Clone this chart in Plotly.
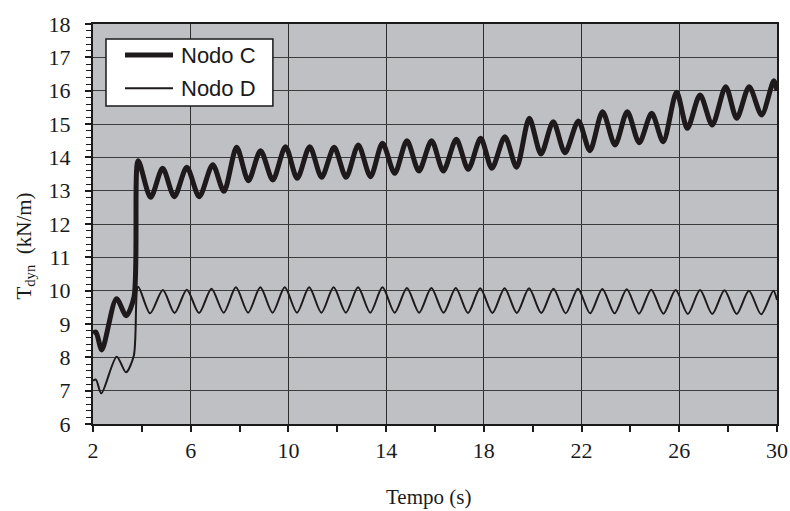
import plotly.graph_objects as go

# Nodo C: times (s) and T_dyn (kN/m) read at extremes of the oscillation
t_c = [2.0, 2.12, 2.36, 2.96, 3.36, 3.68, 3.85, 4.36, 4.85, 5.33, 5.84, 6.35, 6.9, 7.36, 7.88,
       8.36, 8.86, 9.36, 9.88, 10.36, 10.87, 11.36, 11.87, 12.36, 12.86, 13.36, 13.85, 14.35,
       14.85, 15.34, 15.86, 16.34, 16.87, 17.36, 17.87, 18.33, 18.86, 19.34, 19.86, 20.34,
       20.84, 21.32, 21.87, 22.34, 22.86, 23.37, 23.87, 24.36, 24.87, 25.34, 25.89, 26.33,
       26.85, 27.35, 27.9, 28.35, 28.86, 29.37, 29.87, 30.0]
v_c = [8.72, 8.76, 8.22, 9.76, 9.25, 9.82, 13.9, 12.8, 13.67, 12.82, 13.7, 12.82, 13.78, 12.98, 14.3,
       13.3, 14.2, 13.32, 14.32, 13.37, 14.32, 13.4, 14.3, 13.4, 14.37, 13.42, 14.42, 13.52,
       14.5, 13.59, 14.5, 13.59, 14.54, 13.64, 14.57, 13.67, 14.62, 13.7, 15.17, 14.1,
       15.07, 14.14, 15.09, 14.2, 15.37, 14.37, 15.37, 14.44, 15.32, 14.47, 15.95, 14.87,
       15.87, 14.97, 16.12, 15.17, 16.12, 15.27, 16.3, 16.0]

# Nodo D
t_d = [2.0, 2.12, 2.34, 2.97, 3.35, 3.67, 3.85, 4.34, 4.86, 5.34, 5.84, 6.34, 6.85, 7.35, 7.85,
       8.35, 8.85, 9.35, 9.85, 10.35, 10.85, 11.35, 11.85, 12.35, 12.85, 13.35, 13.85, 14.35,
       14.85, 15.35, 15.85, 16.35, 16.85, 17.35, 17.85, 18.35, 18.85, 19.35, 19.85, 20.35,
       20.85, 21.35, 21.85, 22.35, 22.85, 23.35, 23.85, 24.35, 24.85, 25.35, 25.85, 26.35,
       26.85, 27.35, 27.85, 28.35, 28.85, 29.35, 29.85, 30.0]
v_d = [7.3, 7.33, 6.92, 8.02, 7.55, 8.05, 10.12, 9.32, 10.02, 9.33, 10.03, 9.33, 10.06, 9.34, 10.1,
       9.34, 10.1, 9.34, 10.1, 9.34, 10.1, 9.34, 10.1, 9.34, 10.1, 9.34, 10.1, 9.34,
       10.08, 9.34, 10.08, 9.34, 10.08, 9.33, 10.07, 9.33, 10.07, 9.33, 10.07, 9.33,
       10.06, 9.32, 10.06, 9.32, 10.05, 9.32, 10.04, 9.31, 10.03, 9.31, 10.02, 9.3,
       10.02, 9.3, 10.01, 9.3, 10.0, 9.29, 10.0, 9.72]

series_names = ["Nodo C", "Nodo D"]
x_ticks = [2, 6, 10, 14, 18, 22, 26, 30]
x_minor = [4, 8, 12, 16, 20, 24, 28]
y_ticks = list(range(6, 19))

line_col = "#1e1a1b"
serif = "Liberation Serif, Times New Roman, serif"
sans = "Liberation Sans, Arial, sans-serif"

fig = go.Figure()
fig.add_trace(go.Scatter(x=t_c, y=v_c, mode="lines", name=series_names[0],
                         line=dict(color=line_col, width=5, shape="spline", smoothing=0.8)))
fig.add_trace(go.Scatter(x=t_d, y=v_d, mode="lines", name=series_names[1],
                         line=dict(color=line_col, width=2, shape="spline", smoothing=0.8)))

# legend drawn as a box with line samples and text (paper coordinates)
shapes = [
    dict(type="rect", xref="paper", yref="paper", x0=0.019, x1=0.263, y0=0.795, y1=0.9625,
         fillcolor="white", line=dict(color="#1a1a1a", width=1.5), layer="above"),
    dict(type="line", xref="paper", yref="paper", x0=0.0468, x1=0.117, y0=0.9225, y1=0.9225,
         line=dict(color=line_col, width=5), layer="above"),
    dict(type="line", xref="paper", yref="paper", x0=0.0468, x1=0.117, y0=0.8393, y1=0.8393,
         line=dict(color=line_col, width=2), layer="above"),
]
annotations = [
    dict(text=series_names[0], xref="paper", yref="paper", x=0.1257, y=0.9225,
         xanchor="left", yanchor="middle", showarrow=False,
         font=dict(family=sans, size=22, color="#1a1a1a")),
    dict(text=series_names[1], xref="paper", yref="paper", x=0.1257, y=0.8393,
         xanchor="left", yanchor="middle", showarrow=False,
         font=dict(family=sans, size=22, color="#1a1a1a")),
    dict(text="Tempo (s)", xref="paper", yref="paper", x=0.49, y=-0.1825,
         xanchor="center", yanchor="middle", showarrow=False,
         font=dict(family=serif, size=21, color="#1a1a1a")),
    dict(text="T<sub>dyn</sub>  (kN/m)", xref="paper", yref="paper", x=-0.1, y=0.445,
         xanchor="center", yanchor="middle", showarrow=False, textangle=-90,
         font=dict(family=serif, size=21, color="#1a1a1a")),
]

fig.update_layout(
    width=790, height=511,
    margin=dict(l=93, r=13, t=24, b=87),
    paper_bgcolor="white",
    plot_bgcolor="#bfc0c4",
    showlegend=False,
    shapes=shapes,
    annotations=annotations,
    font=dict(family=serif, size=22, color="#1a1a1a"),
)
fig.update_xaxes(
    range=[2, 30], tickvals=x_ticks, ticktext=[str(v) for v in x_ticks],
    ticks="outside", ticklen=6, tickwidth=1.5, tickcolor="#1a1a1a",
    showgrid=True, gridcolor="#2e2e2e", gridwidth=1.3,
    showline=True, linecolor="#1a1a1a", linewidth=2, mirror=True,
    zeroline=False, ticklabelstandoff=0, automargin=False,
    minor=dict(tickvals=x_minor, ticks="outside", ticklen=6,
               tickwidth=1.5, tickcolor="#1a1a1a", showgrid=False),
)
fig.update_yaxes(
    range=[6, 18], tickvals=y_ticks, ticktext=[str(v) for v in y_ticks],
    ticks="outside", ticklen=6, tickwidth=1.5, tickcolor="#1a1a1a",
    showgrid=True, gridcolor="#3c3c3c", gridwidth=1.3,
    showline=True, linecolor="#1a1a1a", linewidth=2, mirror=True,
    zeroline=False, ticklabelstandoff=10, automargin=False,
    minor=dict(dtick=0.2, tick0=6, ticks="outside", ticklen=5, tickwidth=1.2,
               tickcolor="#1a1a1a", showgrid=False),
)

# remove the default page margin so the figure fills the window exactly
fig.write_html("out.html", config={"displayModeBar": False},
               post_script="document.body.style.margin='0';document.body.style.overflow='hidden';")
